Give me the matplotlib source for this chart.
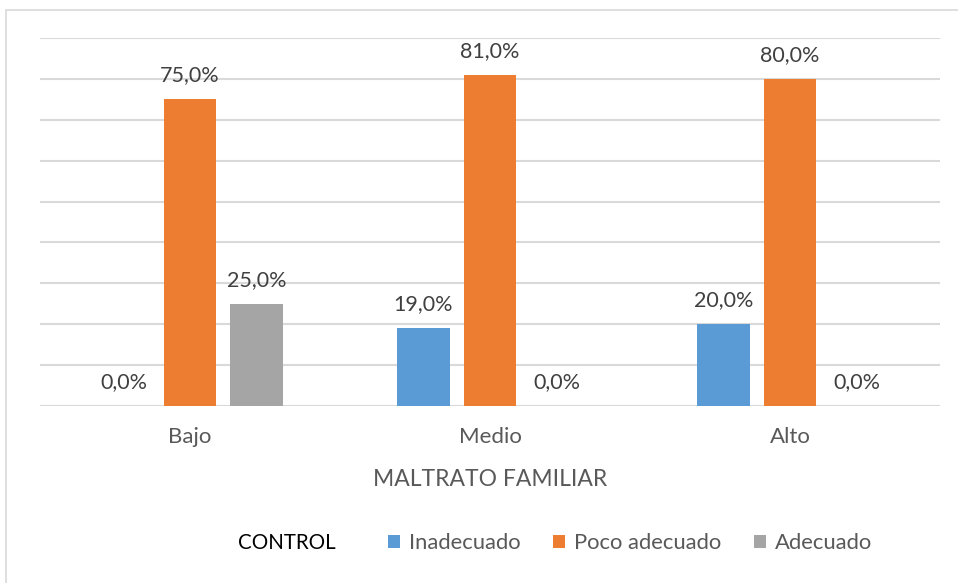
import numpy as np
import matplotlib.pyplot as plt
from matplotlib.patches import Rectangle, Patch

categorias = ['Bajo', 'Medio', 'Alto']
series = ['Inadecuado', 'Poco adecuado', 'Adecuado']
inadecuado = [0.0, 19.0, 20.0]
poco_adecuado = [75.0, 81.0, 80.0]
adecuado = [25.0, 0.0, 0.0]
colores = ['#5B9BD5', '#ED7D31', '#A5A5A5']

plt.rcParams['font.family'] = ['Lato', 'DejaVu Sans']

fig = plt.figure(figsize=(9.58, 5.83), dpi=100)
# marco gris del grafico
fig.patches.append(Rectangle((6/958, -0.1), 1.1, 1 - 10/583 + 0.1, transform=fig.transFigure,
                             fill=False, edgecolor='#d9d9d9', linewidth=1.2))
ax = fig.add_axes([40/958, 177/583, 900/958, 368/583])

x = np.arange(len(categorias))
ancho = 0.175
paso = 0.222
datos = [inadecuado, poco_adecuado, adecuado]
for i, valores in enumerate(datos):
    pos = x + (i - 1)*paso
    ax.bar(pos, valores, ancho, color=colores[i], zorder=3)
    for p, v in zip(pos, valores):
        ax.annotate(f'{v:.1f}%'.replace('.', ','), (p, v), xytext=(0, 10), textcoords='offset points',
                    ha='center', va='bottom', fontsize=15.5, color='#404040')

ax.set_xlim(-0.5, 2.5)
ax.set_ylim(0, 90)
ax.set_yticks(np.arange(0, 91, 10))
ax.yaxis.grid(True, color='#d9d9d9', linewidth=1.5, zorder=0)
ax.set_yticklabels([])
ax.tick_params(axis='y', length=0)
ax.set_xticks(x)
ax.set_xticklabels(categorias, fontsize=16, color='#595959')
ax.tick_params(axis='x', length=0, pad=15)
for s in ['top', 'right', 'left', 'bottom']:
    ax.spines[s].set_visible(False)
ax.set_xlabel('MALTRATO FAMILIAR', fontsize=16.5, color='#595959', labelpad=16)

fig.text(238/958, 1 - 543/583, 'CONTROL', fontsize=14.8, color='black', va='center', ha='left')
handles = [Patch(facecolor=c) for c in colores]
fig.legend(handles, series, loc='center left', bbox_to_anchor=(368/958, 1 - 543/583), ncol=3,
           frameon=False, fontsize=15.8, labelcolor='#595959', handlelength=0.55, handleheight=0.55,
           handletextpad=0.4, columnspacing=1.5)

fig.savefig('out.png', dpi=100)
